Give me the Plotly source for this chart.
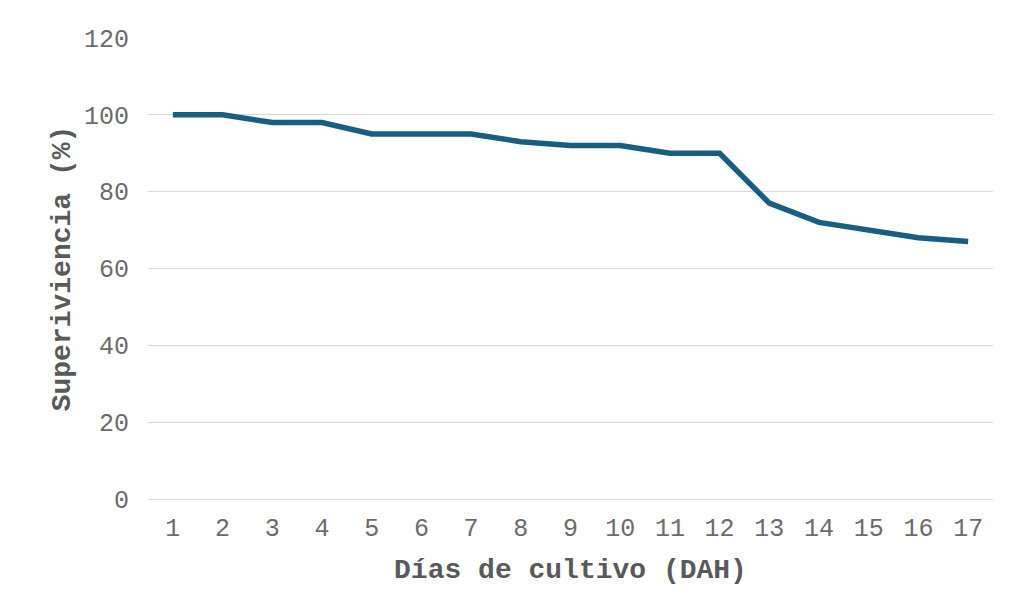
import plotly.graph_objects as go

days = [str(d) for d in range(1, 18)]
survival = [100, 100, 98, 98, 95, 95, 95, 93, 92, 92, 90, 90, 77, 72, 70, 68, 67]
y_ticks = [0, 20, 40, 60, 80, 100, 120]

font_family = "Liberation Mono, Courier New, monospace"

fig = go.Figure()
fig.add_trace(go.Scatter(
    x=days, y=survival, mode="lines",
    line=dict(color="#175E80", width=5.5),
    hoverinfo="x+y", showlegend=False,
))

fig.update_layout(
    width=1011, height=612,
    paper_bgcolor="white", plot_bgcolor="white",
    margin=dict(l=140, r=26, t=30, b=121),
    font=dict(family=font_family, color="#595959"),
)
fig.update_xaxes(
    type="category", range=[-0.5, 16.5],
    showgrid=False, zeroline=False, showline=False,
    tickfont=dict(size=25, color="#6b6b6b"),
    ticks="", ticklabelstandoff=11,
    title=dict(text="<b>Días de cultivo (DAH)</b>", font=dict(size=28, color="#595959"), standoff=15),
)
fig.update_yaxes(
    range=[0, 120], tickvals=y_ticks,
    showgrid=True, gridcolor="#D9D9D9", gridwidth=1,
    zeroline=True, zerolinecolor="#D9D9D9", zerolinewidth=1,
    showline=False, ticks="",
    tickfont=dict(size=25, color="#6b6b6b"),
    ticklabelstandoff=18,
    title=dict(text="<b>Superiviencia (%)</b>", font=dict(size=28, color="#595959"), standoff=5),
)

fig.write_html("out.html")
